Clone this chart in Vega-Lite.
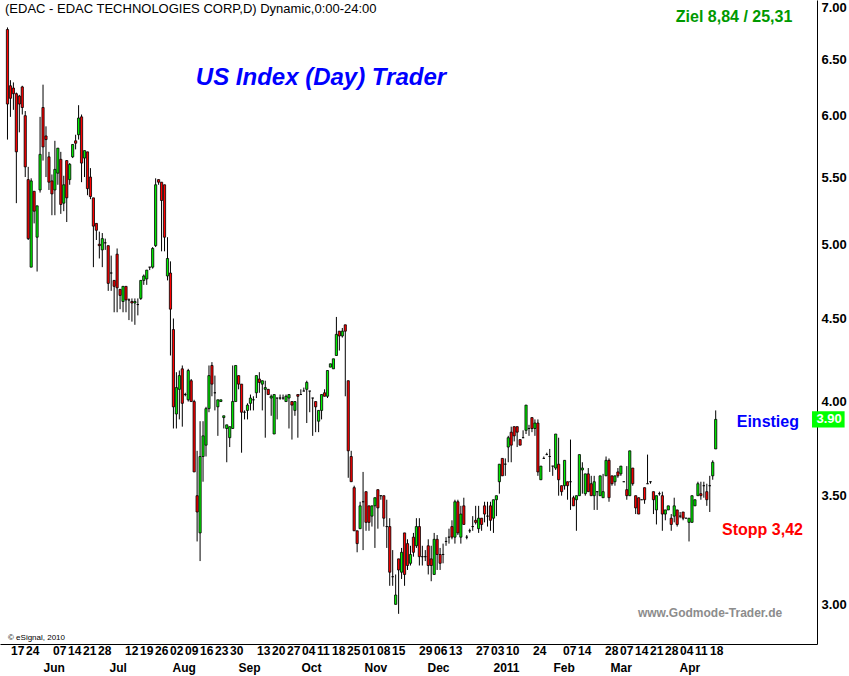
{
  "$schema": "https://vega.github.io/schema/vega-lite/v6.json",
  "background": "white",
  "padding": 0,
  "spacing": 0,
  "config": {"view": {"stroke": null}, "font": "Liberation Sans"},
  "resolve": {"scale": {"x": "independent", "y": "independent"}},
  "datasets": {
    "ohlc": [
      {"i":0,"o":6.78,"h":6.80,"l":5.80,"c":6.10},
      {"i":1,"o":6.26,"h":6.31,"l":5.99,"c":6.15},
      {"i":2,"o":6.24,"h":6.29,"l":6.05,"c":6.19},
      {"i":3,"o":6.19,"h":6.20,"l":5.30,"c":5.70},
      {"i":4,"o":6.17,"h":6.18,"l":5.86,"c":6.10},
      {"i":5,"o":6.25,"h":6.26,"l":6.01,"c":6.07},
      {"i":6,"o":6.00,"h":6.04,"l":5.50,"c":5.58},
      {"i":7,"o":5.48,"h":5.58,"l":5.03,"c":5.04},
      {"i":8,"o":4.84,"h":5.49,"l":4.84,"c":5.47},
      {"i":9,"o":5.39,"h":5.39,"l":5.15,"c":5.24},
      {"i":10,"o":5.05,"h":5.28,"l":4.81,"c":5.28},
      {"i":11,"o":5.40,"h":5.99,"l":5.38,"c":5.68},
      {"i":12,"o":6.07,"h":6.27,"l":5.63,"c":5.74},
      {"i":13,"o":5.83,"h":5.91,"l":5.50,"c":5.80},
      {"i":14,"o":5.66,"h":5.70,"l":5.40,"c":5.46},
      {"i":15,"o":5.47,"h":5.52,"l":5.21,"c":5.37},
      {"i":16,"o":5.40,"h":5.79,"l":5.21,"c":5.56},
      {"i":17,"o":5.53,"h":5.73,"l":5.44,"c":5.73},
      {"i":18,"o":5.64,"h":5.70,"l":5.22,"c":5.29},
      {"i":19,"o":5.30,"h":5.51,"l":5.24,"c":5.44},
      {"i":20,"o":5.63,"h":5.63,"l":5.16,"c":5.34},
      {"i":21,"o":5.48,"h":5.61,"l":5.44,"c":5.60},
      {"i":22,"o":5.66,"h":5.76,"l":5.65,"c":5.76},
      {"i":23,"o":5.79,"h":5.84,"l":5.72,"c":5.77},
      {"i":24,"o":5.84,"h":6.09,"l":5.80,"c":5.98},
      {"i":25,"o":5.99,"h":6.01,"l":5.46,"c":5.61},
      {"i":26,"o":5.65,"h":5.71,"l":5.50,"c":5.71},
      {"i":27,"o":5.70,"h":5.70,"l":5.36,"c":5.41},
      {"i":28,"o":5.50,"h":5.57,"l":5.33,"c":5.35},
      {"i":29,"o":5.34,"h":5.34,"l":4.84,"c":5.13},
      {"i":30,"o":5.15,"h":5.15,"l":5.03,"c":5.10},
      {"i":31,"o":5.00,"h":5.09,"l":4.90,"c":4.99},
      {"i":32,"o":4.96,"h":5.08,"l":4.84,"c":5.04},
      {"i":33,"o":5.01,"h":5.04,"l":4.96,"c":5.01},
      {"i":34,"o":4.99,"h":4.99,"l":4.68,"c":4.73},
      {"i":35,"o":4.80,"h":4.92,"l":4.68,"c":4.80},
      {"i":36,"o":4.75,"h":4.75,"l":4.54,"c":4.71},
      {"i":37,"o":4.93,"h":4.97,"l":4.54,"c":4.70},
      {"i":38,"o":4.69,"h":4.69,"l":4.56,"c":4.65},
      {"i":39,"o":4.61,"h":4.71,"l":4.54,"c":4.71},
      {"i":40,"o":4.71,"h":4.71,"l":4.54,"c":4.62},
      {"i":41,"o":4.62,"h":4.63,"l":4.49,"c":4.62},
      {"i":42,"o":4.61,"h":4.63,"l":4.48,"c":4.60},
      {"i":43,"o":4.60,"h":4.63,"l":4.46,"c":4.61},
      {"i":44,"o":4.59,"h":4.63,"l":4.52,"c":4.59},
      {"i":45,"o":4.63,"h":4.75,"l":4.62,"c":4.75},
      {"i":46,"o":4.75,"h":4.79,"l":4.72,"c":4.78},
      {"i":47,"o":4.76,"h":4.82,"l":4.72,"c":4.82},
      {"i":48,"o":4.84,"h":4.84,"l":4.82,"c":4.84},
      {"i":49,"o":4.84,"h":4.98,"l":4.83,"c":4.97},
      {"i":50,"o":4.99,"h":5.49,"l":4.98,"c":5.44},
      {"i":51,"o":5.48,"h":5.48,"l":5.44,"c":5.46},
      {"i":52,"o":5.46,"h":5.46,"l":4.95,"c":5.32},
      {"i":53,"o":5.44,"h":5.44,"l":4.95,"c":5.05},
      {"i":54,"o":4.78,"h":5.05,"l":4.75,"c":4.90},
      {"i":55,"o":4.80,"h":4.88,"l":4.27,"c":4.56},
      {"i":56,"o":4.43,"h":4.50,"l":3.85,"c":3.97},
      {"i":57,"o":3.93,"h":4.17,"l":3.85,"c":4.08},
      {"i":58,"o":4.07,"h":4.18,"l":3.90,"c":4.15},
      {"i":59,"o":4.19,"h":4.21,"l":3.86,"c":3.99},
      {"i":60,"o":4.04,"h":4.05,"l":4.03,"c":4.04},
      {"i":61,"o":4.01,"h":4.19,"l":4.00,"c":4.18},
      {"i":62,"o":4.12,"h":4.13,"l":4.00,"c":4.00},
      {"i":63,"o":4.00,"h":4.01,"l":3.62,"c":3.62},
      {"i":64,"o":3.50,"h":3.73,"l":3.28,"c":3.42},
      {"i":65,"o":3.32,"h":3.89,"l":3.19,"c":3.70},
      {"i":66,"o":3.70,"h":3.89,"l":3.57,"c":3.81},
      {"i":67,"o":3.76,"h":3.97,"l":3.70,"c":3.96},
      {"i":68,"o":3.96,"h":4.21,"l":3.94,"c":4.15},
      {"i":69,"o":4.21,"h":4.23,"l":4.03,"c":4.10},
      {"i":70,"o":4.05,"h":4.15,"l":3.95,"c":4.05},
      {"i":71,"o":3.97,"h":4.01,"l":3.81,"c":4.01},
      {"i":72,"o":4.00,"h":4.01,"l":4.00,"c":4.01},
      {"i":73,"o":3.91,"h":3.92,"l":3.85,"c":3.92},
      {"i":74,"o":3.85,"h":3.87,"l":3.67,"c":3.87},
      {"i":75,"o":3.80,"h":3.86,"l":3.75,"c":3.86},
      {"i":76,"o":3.85,"h":4.21,"l":3.85,"c":4.00},
      {"i":77,"o":4.00,"h":4.21,"l":4.00,"c":4.21},
      {"i":78,"o":4.15,"h":4.15,"l":4.07,"c":4.10},
      {"i":79,"o":4.10,"h":4.10,"l":3.72,"c":3.94},
      {"i":80,"o":3.94,"h":3.95,"l":3.90,"c":3.94},
      {"i":81,"o":3.95,"h":3.99,"l":3.90,"c":3.98},
      {"i":82,"o":3.99,"h":4.04,"l":3.95,"c":4.02},
      {"i":83,"o":4.01,"h":4.03,"l":3.95,"c":4.01},
      {"i":84,"o":4.05,"h":4.15,"l":4.02,"c":4.15},
      {"i":85,"o":4.13,"h":4.17,"l":4.05,"c":4.11},
      {"i":86,"o":4.10,"h":4.12,"l":3.95,"c":4.12},
      {"i":87,"o":4.07,"h":4.12,"l":3.80,"c":4.08},
      {"i":88,"o":4.07,"h":4.07,"l":4.04,"c":4.04},
      {"i":89,"o":4.02,"h":4.04,"l":3.92,"c":4.03},
      {"i":90,"o":3.82,"h":4.04,"l":3.82,"c":4.04},
      {"i":91,"o":4.02,"h":4.02,"l":3.90,"c":4.02},
      {"i":92,"o":4.02,"h":4.04,"l":4.01,"c":4.02},
      {"i":93,"o":4.02,"h":4.04,"l":4.01,"c":4.02},
      {"i":94,"o":4.00,"h":4.04,"l":4.00,"c":4.03},
      {"i":95,"o":4.02,"h":4.04,"l":3.85,"c":4.04},
      {"i":96,"o":4.00,"h":4.00,"l":3.79,"c":3.98},
      {"i":97,"o":3.95,"h":4.00,"l":3.92,"c":4.00},
      {"i":98,"o":4.04,"h":4.04,"l":3.80,"c":4.03},
      {"i":99,"o":4.04,"h":4.07,"l":4.04,"c":4.04},
      {"i":100,"o":4.06,"h":4.08,"l":4.06,"c":4.06},
      {"i":101,"o":4.07,"h":4.12,"l":3.88,"c":4.11},
      {"i":102,"o":4.06,"h":4.06,"l":3.94,"c":4.06},
      {"i":103,"o":4.02,"h":4.02,"l":3.81,"c":4.02},
      {"i":104,"o":4.00,"h":4.00,"l":3.83,"c":3.97},
      {"i":105,"o":3.89,"h":3.95,"l":3.83,"c":3.95},
      {"i":106,"o":3.95,"h":4.04,"l":3.90,"c":4.04},
      {"i":107,"o":4.05,"h":4.07,"l":4.03,"c":4.03},
      {"i":108,"o":4.03,"h":4.18,"l":4.02,"c":4.18},
      {"i":109,"o":4.20,"h":4.22,"l":4.20,"c":4.22},
      {"i":110,"o":4.19,"h":4.25,"l":4.19,"c":4.25},
      {"i":111,"o":4.27,"h":4.51,"l":4.27,"c":4.40},
      {"i":112,"o":4.42,"h":4.42,"l":4.30,"c":4.39},
      {"i":113,"o":4.39,"h":4.44,"l":4.38,"c":4.42},
      {"i":114,"o":4.46,"h":4.46,"l":4.03,"c":4.42},
      {"i":115,"o":4.12,"h":4.12,"l":3.59,"c":3.73},
      {"i":116,"o":3.70,"h":3.73,"l":3.57,"c":3.57},
      {"i":117,"o":3.54,"h":3.55,"l":3.33,"c":3.33},
      {"i":118,"o":3.33,"h":3.33,"l":3.23,"c":3.27},
      {"i":119,"o":3.34,"h":3.47,"l":3.34,"c":3.45},
      {"i":120,"o":3.47,"h":3.62,"l":3.24,"c":3.47},
      {"i":121,"o":3.52,"h":3.52,"l":3.33,"c":3.37},
      {"i":122,"o":3.45,"h":3.45,"l":3.33,"c":3.37},
      {"i":123,"o":3.40,"h":3.45,"l":3.35,"c":3.45},
      {"i":124,"o":3.45,"h":3.49,"l":3.25,"c":3.49},
      {"i":125,"o":3.53,"h":3.53,"l":3.34,"c":3.44},
      {"i":126,"o":3.50,"h":3.50,"l":3.48,"c":3.50},
      {"i":127,"o":3.50,"h":3.50,"l":3.35,"c":3.39},
      {"i":128,"o":3.35,"h":3.48,"l":3.25,"c":3.35},
      {"i":129,"o":3.35,"h":3.39,"l":3.08,"c":3.14},
      {"i":130,"o":3.12,"h":3.24,"l":3.08,"c":3.12},
      {"i":131,"o":3.00,"h":3.13,"l":3.00,"c":3.04},
      {"i":132,"o":3.20,"h":3.20,"l":2.96,"c":3.15},
      {"i":133,"o":3.14,"h":3.25,"l":3.11,"c":3.23},
      {"i":134,"o":3.32,"h":3.32,"l":3.08,"c":3.13},
      {"i":135,"o":3.27,"h":3.29,"l":3.15,"c":3.17},
      {"i":136,"o":3.18,"h":3.26,"l":3.17,"c":3.22},
      {"i":137,"o":3.30,"h":3.32,"l":3.21,"c":3.23},
      {"i":138,"o":3.26,"h":3.39,"l":3.25,"c":3.35},
      {"i":139,"o":3.35,"h":3.39,"l":3.17,"c":3.21},
      {"i":140,"o":3.21,"h":3.26,"l":3.17,"c":3.21},
      {"i":141,"o":3.21,"h":3.24,"l":3.19,"c":3.21},
      {"i":142,"o":3.26,"h":3.29,"l":3.13,"c":3.17},
      {"i":143,"o":3.20,"h":3.26,"l":3.10,"c":3.17},
      {"i":144,"o":3.13,"h":3.32,"l":3.13,"c":3.29},
      {"i":145,"o":3.29,"h":3.31,"l":3.15,"c":3.22},
      {"i":146,"o":3.22,"h":3.25,"l":3.15,"c":3.18},
      {"i":147,"o":3.22,"h":3.27,"l":3.18,"c":3.22},
      {"i":148,"o":3.28,"h":3.30,"l":3.26,"c":3.28},
      {"i":149,"o":3.30,"h":3.34,"l":3.27,"c":3.30},
      {"i":150,"o":3.35,"h":3.38,"l":3.29,"c":3.30},
      {"i":151,"o":3.30,"h":3.48,"l":3.27,"c":3.47},
      {"i":152,"o":3.47,"h":3.48,"l":3.31,"c":3.32},
      {"i":153,"o":3.30,"h":3.45,"l":3.27,"c":3.41},
      {"i":154,"o":3.45,"h":3.49,"l":3.36,"c":3.36},
      {"i":155,"o":3.30,"h":3.31,"l":3.29,"c":3.30},
      {"i":156,"o":3.33,"h":3.34,"l":3.32,"c":3.33},
      {"i":157,"o":3.35,"h":3.40,"l":3.33,"c":3.35},
      {"i":158,"o":3.38,"h":3.45,"l":3.36,"c":3.37},
      {"i":159,"o":3.34,"h":3.45,"l":3.32,"c":3.39},
      {"i":160,"o":3.39,"h":3.39,"l":3.33,"c":3.36},
      {"i":161,"o":3.45,"h":3.47,"l":3.37,"c":3.41},
      {"i":162,"o":3.40,"h":3.47,"l":3.35,"c":3.40},
      {"i":163,"o":3.45,"h":3.47,"l":3.33,"c":3.38},
      {"i":164,"o":3.39,"h":3.48,"l":3.32,"c":3.48},
      {"i":165,"o":3.48,"h":3.50,"l":3.40,"c":3.50},
      {"i":166,"o":3.57,"h":3.66,"l":3.51,"c":3.66},
      {"i":167,"o":3.69,"h":3.69,"l":3.60,"c":3.60},
      {"i":168,"o":3.66,"h":3.69,"l":3.60,"c":3.66},
      {"i":169,"o":3.75,"h":3.81,"l":3.67,"c":3.80},
      {"i":170,"o":3.83,"h":3.86,"l":3.67,"c":3.76},
      {"i":171,"o":3.86,"h":3.86,"l":3.78,"c":3.81},
      {"i":172,"o":3.86,"h":3.86,"l":3.75,"c":3.83},
      {"i":173,"o":3.79,"h":3.79,"l":3.76,"c":3.76},
      {"i":174,"o":3.80,"h":3.84,"l":3.80,"c":3.80},
      {"i":175,"o":3.84,"h":3.98,"l":3.82,"c":3.98},
      {"i":176,"o":3.85,"h":3.87,"l":3.81,"c":3.85},
      {"i":177,"o":3.91,"h":3.91,"l":3.83,"c":3.85},
      {"i":178,"o":3.85,"h":3.90,"l":3.81,"c":3.88},
      {"i":179,"o":3.88,"h":3.90,"l":3.60,"c":3.62},
      {"i":180,"o":3.58,"h":3.65,"l":3.58,"c":3.65},
      {"i":181,"o":3.69,"h":3.70,"l":3.69,"c":3.69},
      {"i":182,"o":3.71,"h":3.72,"l":3.71,"c":3.71},
      {"i":183,"o":3.70,"h":3.74,"l":3.62,"c":3.70},
      {"i":184,"o":3.65,"h":3.65,"l":3.60,"c":3.65},
      {"i":185,"o":3.64,"h":3.82,"l":3.63,"c":3.82},
      {"i":186,"o":3.66,"h":3.80,"l":3.50,"c":3.58},
      {"i":187,"o":3.55,"h":3.55,"l":3.50,"c":3.52},
      {"i":188,"o":3.55,"h":3.68,"l":3.53,"c":3.68},
      {"i":189,"o":3.57,"h":3.57,"l":3.48,"c":3.55},
      {"i":190,"o":3.57,"h":3.79,"l":3.43,"c":3.57},
      {"i":191,"o":3.49,"h":3.50,"l":3.45,"c":3.45},
      {"i":192,"o":3.48,"h":3.50,"l":3.33,"c":3.50},
      {"i":193,"o":3.50,"h":3.71,"l":3.50,"c":3.71},
      {"i":194,"o":3.63,"h":3.67,"l":3.51,"c":3.64},
      {"i":195,"o":3.51,"h":3.61,"l":3.50,"c":3.61},
      {"i":196,"o":3.61,"h":3.64,"l":3.52,"c":3.52},
      {"i":197,"o":3.56,"h":3.60,"l":3.50,"c":3.50},
      {"i":198,"o":3.50,"h":3.60,"l":3.43,"c":3.57},
      {"i":199,"o":3.52,"h":3.52,"l":3.43,"c":3.52},
      {"i":200,"o":3.50,"h":3.60,"l":3.50,"c":3.60},
      {"i":201,"o":3.49,"h":3.61,"l":3.49,"c":3.52},
      {"i":202,"o":3.60,"h":3.70,"l":3.60,"c":3.68},
      {"i":203,"o":3.68,"h":3.69,"l":3.47,"c":3.49},
      {"i":204,"o":3.60,"h":3.60,"l":3.55,"c":3.56},
      {"i":205,"o":3.57,"h":3.60,"l":3.55,"c":3.60},
      {"i":206,"o":3.62,"h":3.64,"l":3.59,"c":3.60},
      {"i":207,"o":3.61,"h":3.65,"l":3.60,"c":3.65},
      {"i":208,"o":3.57,"h":3.57,"l":3.57,"c":3.57},
      {"i":209,"o":3.53,"h":3.65,"l":3.48,"c":3.50},
      {"i":210,"o":3.50,"h":3.73,"l":3.50,"c":3.73},
      {"i":211,"o":3.64,"h":3.64,"l":3.55,"c":3.56},
      {"i":212,"o":3.50,"h":3.50,"l":3.41,"c":3.44},
      {"i":213,"o":3.49,"h":3.49,"l":3.41,"c":3.41},
      {"i":214,"o":3.48,"h":3.48,"l":3.48,"c":3.48},
      {"i":215,"o":3.54,"h":3.54,"l":3.46,"c":3.48},
      {"i":216,"o":3.56,"h":3.71,"l":3.56,"c":3.56},
      {"i":217,"o":3.57,"h":3.57,"l":3.56,"c":3.57},
      {"i":218,"o":3.52,"h":3.52,"l":3.41,"c":3.48},
      {"i":219,"o":3.43,"h":3.50,"l":3.36,"c":3.50},
      {"i":220,"o":3.51,"h":3.52,"l":3.50,"c":3.51},
      {"i":221,"o":3.50,"h":3.52,"l":3.33,"c":3.41},
      {"i":222,"o":3.41,"h":3.43,"l":3.38,"c":3.43},
      {"i":223,"o":3.43,"h":3.45,"l":3.43,"c":3.45},
      {"i":224,"o":3.39,"h":3.41,"l":3.33,"c":3.36},
      {"i":225,"o":3.40,"h":3.49,"l":3.37,"c":3.45},
      {"i":226,"o":3.43,"h":3.43,"l":3.35,"c":3.36},
      {"i":227,"o":3.40,"h":3.42,"l":3.39,"c":3.40},
      {"i":228,"o":3.42,"h":3.42,"l":3.38,"c":3.39},
      {"i":229,"o":3.39,"h":3.39,"l":3.39,"c":3.39},
      {"i":230,"o":3.37,"h":3.39,"l":3.28,"c":3.39},
      {"i":231,"o":3.37,"h":3.50,"l":3.37,"c":3.50},
      {"i":232,"o":3.45,"h":3.48,"l":3.45,"c":3.48},
      {"i":233,"o":3.50,"h":3.57,"l":3.50,"c":3.56},
      {"i":234,"o":3.51,"h":3.57,"l":3.48,"c":3.50},
      {"i":235,"o":3.55,"h":3.57,"l":3.49,"c":3.55},
      {"i":236,"o":3.52,"h":3.56,"l":3.45,"c":3.48},
      {"i":237,"o":3.55,"h":3.60,"l":3.42,"c":3.55},
      {"i":238,"o":3.60,"h":3.68,"l":3.58,"c":3.67},
      {"i":239,"o":3.74,"h":3.95,"l":3.74,"c":3.90}
    ],
    "days": [
      {"i":3,"t":"17"},{"i":8,"t":"24"},
      {"i":17,"t":"07"},{"i":22,"t":"14"},{"i":27,"t":"21"},{"i":32,"t":"28"},
      {"i":41,"t":"12"},{"i":46,"t":"19"},{"i":51,"t":"26"},
      {"i":56,"t":"02"},{"i":61,"t":"09"},{"i":66,"t":"16"},{"i":71,"t":"23"},{"i":76,"t":"30"},
      {"i":85,"t":"13"},{"i":90,"t":"20"},{"i":95,"t":"27"},
      {"i":100,"t":"04"},{"i":105,"t":"11"},{"i":110,"t":"18"},{"i":115,"t":"25"},
      {"i":120,"t":"01"},{"i":125,"t":"08"},{"i":130,"t":"15"},{"i":139,"t":"29"},
      {"i":144,"t":"06"},{"i":149,"t":"13"},{"i":158,"t":"27"},
      {"i":163,"t":"03"},{"i":168,"t":"10"},{"i":177,"t":"24"},
      {"i":187,"t":"07"},{"i":192,"t":"14"},{"i":201,"t":"28"},
      {"i":206,"t":"07"},{"i":211,"t":"14"},{"i":216,"t":"21"},{"i":221,"t":"28"},
      {"i":226,"t":"04"},{"i":231,"t":"11"},{"i":236,"t":"18"}
    ],
    "months": [
      {"i":13,"t":"Jun"},{"i":35,"t":"Jul"},{"i":56,"t":"Aug"},
      {"i":78,"t":"Sep"},{"i":99,"t":"Oct"},{"i":120,"t":"Nov"},
      {"i":141,"t":"Dec"},{"i":163,"t":"2011"},{"i":183,"t":"Feb"},
      {"i":202,"t":"Mar"},{"i":225,"t":"Apr"}
    ]
  },
  "vconcat": [
    {
      "width": 817,
      "height": 644,
      "layer": [
        {
          "data": {"name": "ohlc"},
          "mark": {"type": "rule", "color": "black", "strokeWidth": 1},
          "encoding": {
            "x": {
              "field": "i", "type": "quantitative",
              "scale": {"domain": [-0.8333, 271.5], "nice": false, "zero": false},
              "axis": {"title": null, "labels": false, "ticks": false, "grid": false, "domainColor": "black", "domainWidth": 1}
            },
            "y": {
              "field": "l", "type": "quantitative",
              "scale": {"type": "log", "domain": [2.836, 7.07], "nice": false},
              "axis": {
                "orient": "right", "title": null, "grid": false, "ticks": false,
                "values": [3, 3.5, 4, 4.5, 5, 5.5, 6, 6.5, 7], "format": ".2f",
                "labelFont": "Liberation Sans", "labelFontSize": 13, "labelFontWeight": "bold",
                "labelColor": "black", "labelPadding": 4, "domainColor": "black", "domainWidth": 1
              }
            },
            "y2": {"field": "h"}
          }
        },
        {
          "data": {"name": "ohlc"},
          "mark": {"type": "bar", "width": 2.2, "stroke": "black", "strokeWidth": 0.8},
          "encoding": {
            "x": {"field": "i", "type": "quantitative"},
            "y": {"field": "o", "type": "quantitative"},
            "y2": {"field": "c"},
            "fill": {"condition": {"test": "datum.c >= datum.o", "value": "#00f000"}, "value": "#ff0000"}
          }
        },
        {
          "data": {"values": [{}]},
          "mark": {"type": "text", "align": "left", "baseline": "alphabetic", "fontSize": 13, "color": "black",
                   "text": "(EDAC - EDAC TECHNOLOGIES CORP,D) Dynamic,0:00-24:00"},
          "encoding": {"x": {"datum": -0.8333}, "y": {"datum": 6.944}}
        },
        {
          "data": {"values": [{}]},
          "mark": {"type": "text", "align": "center", "baseline": "alphabetic", "fontSize": 24, "fontWeight": "bold",
                   "fontStyle": "italic", "color": "#0000ff", "text": "US Index (Day) Trader"},
          "encoding": {"x": {"datum": 105.8}, "y": {"datum": 6.267}}
        },
        {
          "data": {"values": [{}]},
          "mark": {"type": "text", "align": "center", "baseline": "alphabetic", "fontSize": 16, "fontWeight": "bold",
                   "color": "#009900", "text": "Ziel 8,84 / 25,31"},
          "encoding": {"x": {"datum": 245.2}, "y": {"datum": 6.848}}
        },
        {
          "data": {"values": [{}]},
          "mark": {"type": "text", "align": "center", "baseline": "middle", "dy": 3, "fontSize": 16, "fontWeight": "bold",
                   "color": "#0000ff", "text": "Einstieg"},
          "encoding": {"x": {"datum": 256.6}, "y": {"datum": 3.90}}
        },
        {
          "data": {"values": [{}]},
          "mark": {"type": "text", "align": "center", "baseline": "top", "dy": 10, "fontSize": 16, "fontWeight": "bold",
                   "color": "#ff0000", "text": "Stopp 3,42"},
          "encoding": {"x": {"datum": 254.8}, "y": {"datum": 3.42}}
        },
        {
          "data": {"values": [{}]},
          "mark": {"type": "text", "align": "center", "baseline": "alphabetic", "fontSize": 12, "fontWeight": "bold",
                   "color": "#8c8c8c", "text": "www.Godmode-Trader.de"},
          "encoding": {"x": {"datum": 237.1}, "y": {"datum": 2.947}}
        },
        {
          "data": {"values": [{}]},
          "mark": {"type": "text", "align": "left", "baseline": "alphabetic", "fontSize": 8, "color": "black",
                   "text": "© eSignal, 2010"},
          "encoding": {"x": {"datum": 0.17}, "y": {"datum": 2.852}}
        },
        {
          "data": {"values": [{}]},
          "mark": {"type": "rect", "fill": "#00ff00"},
          "encoding": {"x": {"datum": 271.5}, "x2": {"datum": 282.5}, "y": {"datum": 3.945}, "y2": {"datum": 3.856}}
        },
        {
          "data": {"values": [{}]},
          "mark": {"type": "text", "align": "left", "baseline": "middle", "fontSize": 13, "fontWeight": "bold",
                   "color": "white", "text": "3.90"},
          "encoding": {"x": {"datum": 273}, "y": {"datum": 3.90}}
        }
      ]
    },
    {
      "width": 817,
      "height": 31,
      "layer": [
        {
          "data": {"name": "days"},
          "mark": {"type": "text", "align": "left", "baseline": "middle", "dx": -0.5, "fontSize": 12, "fontWeight": "bold", "color": "black"},
          "encoding": {
            "x": {"field": "i", "type": "quantitative", "scale": {"domain": [-0.8333, 271.5], "nice": false, "zero": false}, "axis": null},
            "y": {"datum": 0.22, "type": "quantitative", "scale": {"domain": [0, 1], "reverse": true}, "axis": null},
            "text": {"field": "t"}
          }
        },
        {
          "data": {"name": "months"},
          "mark": {"type": "text", "align": "left", "baseline": "middle", "dx": 2, "fontSize": 12, "fontWeight": "bold", "color": "black"},
          "encoding": {
            "x": {"field": "i", "type": "quantitative"},
            "y": {"datum": 0.77, "type": "quantitative"},
            "text": {"field": "t"}
          }
        }
      ]
    }
  ]
}
